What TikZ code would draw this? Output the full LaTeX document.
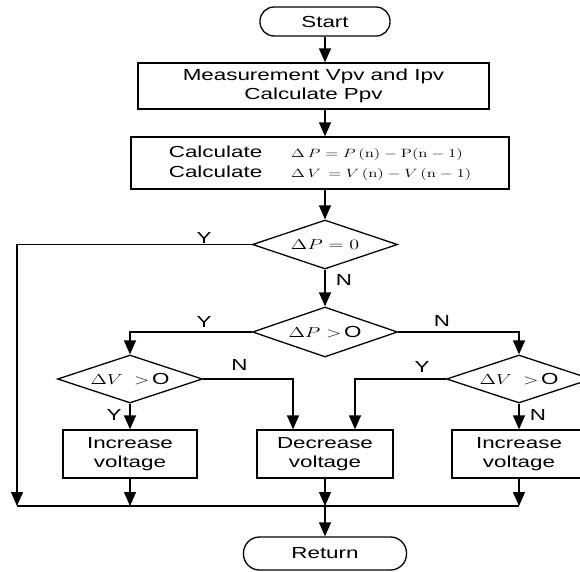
\documentclass[tikz,border=0pt]{standalone}
\usepackage[no-math]{fontspec}
\setmainfont{Liberation Sans}[FakeStretch=1.4]
\usetikzlibrary{arrows.meta,shapes.geometric,calc}
\newcommand\mxd[1]{{\fontsize{14}{16}\selectfont\scalebox{1.4}[1]{$#1$}}}
\newcommand\mxf[1]{{\fontsize{12.5}{15}\selectfont\scalebox{1.4}[1]{$#1$}}}
\tikzset{
  txt/.style={font=\fontsize{16}{19}\selectfont},
  procbox/.style={draw, rectangle, inner sep=0pt, align=center, txt},
  termbox/.style={draw, rectangle, inner sep=0pt, align=center, txt},
  decbox/.style={draw, diamond, aspect=2.96, inner sep=0pt, minimum width=145pt, minimum height=49pt, txt},
  lab/.style={inner sep=0pt, txt},
  arr/.style={-{Triangle[length=14pt,width=12pt]}}
}
\begin{document}
\begin{tikzpicture}[x=1pt,y=-1pt,line width=1.3pt]
\clip (0,0) rectangle (580,571);
\fill[white] (0,0) rectangle (580,571);
% nodes
\node[termbox, rounded corners=14pt, minimum width=130pt, minimum height=29pt] (start) at (325,21.5) {Start};
\node[procbox, minimum width=351pt, minimum height=46pt] (box1) at (313.5,86)
  {Measurement Vpv and Ipv\\Calculate Ppv};
\node[procbox, minimum width=378pt, minimum height=52pt] (box2) at (320,163)
  {\fontsize{16}{20}\selectfont\begin{tabular}{@{}l@{\hspace{29pt}}l@{}}
   Calculate & \mxf{\Delta\,P = P\,(\mathrm{n}) - \mathrm{P}(\mathrm{n}-1)}\\
   Calculate & \mxf{\Delta\,V\, = V\,(\mathrm{n}) - V\,(\mathrm{n}-1)}
   \end{tabular}};
\node[decbox] (d1) at (325,244.5) {\mxd{\Delta P = 0}};
\node[decbox, minimum height=50pt] (d2) at (325,332) {\mxd{\Delta P >}\,O};
\node[decbox, minimum height=48pt] (d3) at (130,379) {\mxd{\Delta V\; >}\,O};
\node[decbox, minimum height=48pt] (d4) at (519,379) {\mxd{\Delta V\; >}\,O};
\node[procbox, minimum width=134pt, minimum height=48pt] (b3) at (130,454) {Increase\\voltage};
\node[procbox, minimum width=136pt, minimum height=48pt] (b4) at (325,454) {Decrease\\voltage};
\node[procbox, minimum width=134pt, minimum height=48pt] (b5) at (519,454) {Increase\\voltage};
\node[termbox, rounded corners=16pt, minimum width=163pt, minimum height=33pt] (ret) at (325,553.5) {Return};
\coordinate (bl) at (17,506);
% connectors
\draw[arr] (start.south) -- (start.south |- box1.north);
\draw[arr] (d1 |- box1.south) -- (d1 |- box2.north);
\draw[arr] (d1 |- box2.south) -- (d1.north);
\draw[arr] (d1.south) -- (d2.north);
\draw[arr] (d1.west) -| (bl);
\draw[arr] (d2.west) -| (d3.north);
\draw[arr] (d2.east) -| (d4.north);
\draw[arr] (d3.east) -| ($(b4.north)+(-32,0)$);
\draw[arr] (d4.west) -| ($(b4.north)+(30,0)$);
\draw[arr] (d3.south) -- (b3.north);
\draw[arr] (d4.south) -- (b5.north);
\draw (bl) -- (b5.south |- bl);
\draw[arr] (b3.south) -- (b3.south |- bl);
\draw[arr] (b4.south) -- (b4.south |- bl);
\draw[arr] (b5.south) -- (b5.south |- bl);
\draw[arr] (b4.south |- bl) -- (ret.north);
% labels
\node[lab] (y1) at (204,237.5) {Y};
\node[lab] (n1) at (344,279.5) {N};
\node[lab] (y2) at (204,322) {Y};
\node[lab] (n2) at (442,321) {N};
\node[lab] (n3) at (239.5,365) {N};
\node[lab] (y4) at (422,367) {Y};
\node[lab] (y3) at (114,415) {Y};
\node[lab] (n4) at (538,415) {N};
\end{tikzpicture}
\end{document}
